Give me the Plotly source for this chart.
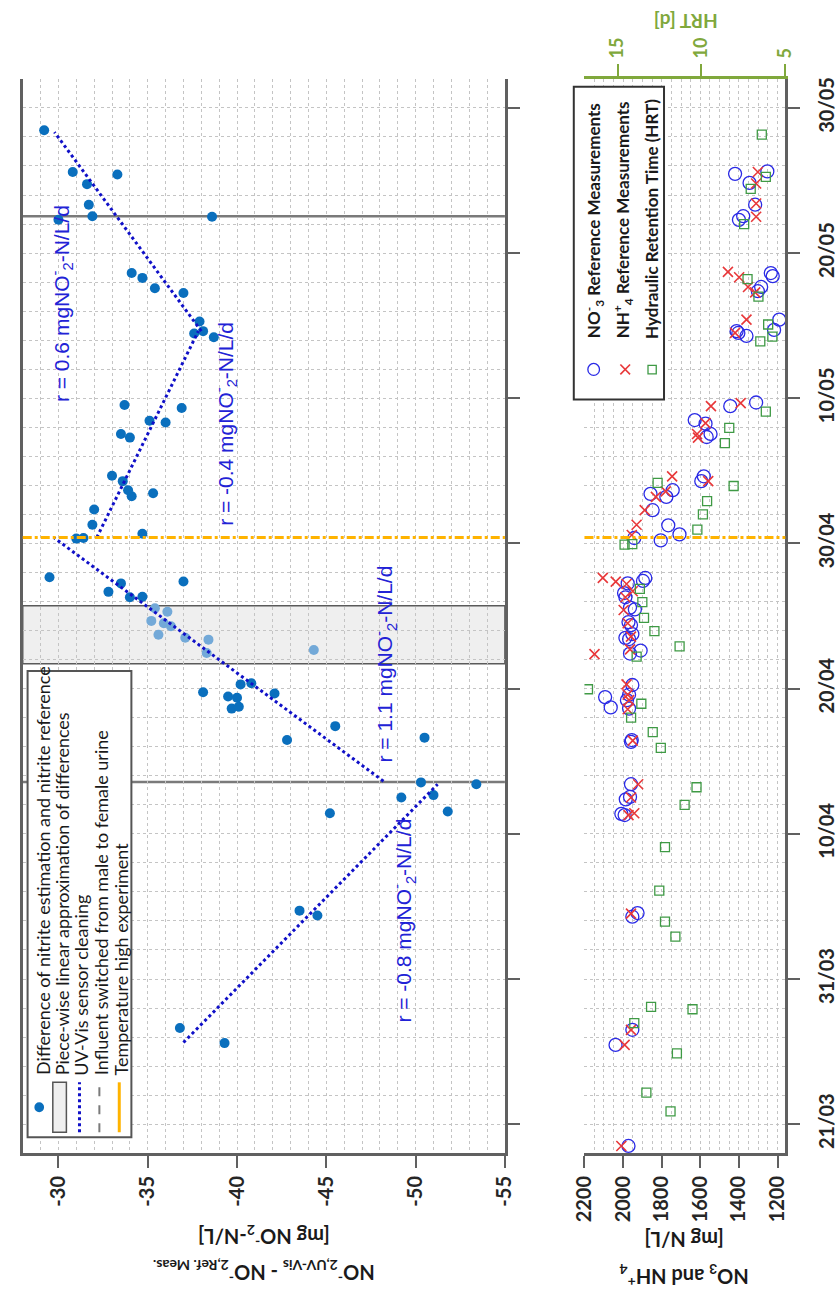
import pandas as pd
import plotly.graph_objects as go

W, H = 838, 1290

# ---------------- data ----------------
# difference between UV-Vis nitrite estimate and nitrite reference [mg NO2-N/L]
nitrite_dates = [
    "2019-03-26 14:00", "2019-03-27 15:00",
    "2019-04-04 09:00", "2019-04-04 17:00",
    "2019-04-11 10:00", "2019-04-11 13:00",
    "2019-04-12 12:00", "2019-04-12 16:00",
    "2019-04-13 10:00", "2019-04-13 13:00",
    "2019-04-16 11:00", "2019-04-16 15:00",
    "2019-04-17 10:00",
    "2019-04-18 15:00", "2019-04-18 18:00",
    "2019-04-19 09:00", "2019-04-19 11:00", "2019-04-19 16:00", "2019-04-19 18:00",
    "2019-04-20 07:00", "2019-04-20 09:00",
    "2019-04-26 07:00", "2019-04-26 08:00", "2019-04-26 16:00",
    "2019-04-27 06:00", "2019-04-27 09:00", "2019-04-27 16:00",
    "2019-04-30 08:00", "2019-04-30 09:00", "2019-04-30 16:00",
    "2019-05-01 07:00", "2019-05-02 08:00",
    "2019-05-03 06:00", "2019-05-03 11:00", "2019-05-03 16:00",
    "2019-05-04 07:00", "2019-05-04 16:00",
    "2019-05-07 07:00", "2019-05-07 13:00",
    "2019-05-08 08:00", "2019-05-08 11:00",
    "2019-05-09 08:00", "2019-05-09 13:00",
    "2019-05-14 05:00", "2019-05-14 11:00", "2019-05-14 15:00", "2019-05-15 07:00",
    "2019-05-17 06:00", "2019-05-17 14:00",
    "2019-05-18 07:00", "2019-05-18 15:00",
    "2019-05-22 07:00", "2019-05-22 12:00", "2019-05-22 13:00",
    "2019-05-23 08:00", "2019-05-24 18:00",
    "2019-05-25 10:00", "2019-05-25 14:00",
    "2019-05-28 11:00",
]
nitrite_diff = [
    -39.3, -36.8,
    -44.5, -43.5,
    -45.2, -51.8,
    -49.2, -51.0,
    -53.4, -50.3,
    -42.8, -50.5,
    -45.5,
    -39.7, -40.1,
    -40.0, -39.5, -42.1, -38.1,
    -40.2, -40.8,
    -34.0, -34.7, -32.8,
    -33.5, -37.0, -29.5,
    -31.0, -31.4, -34.7,
    -31.9, -32.0,
    -34.1, -35.3, -33.9,
    -33.6, -33.0,
    -34.0, -33.5,
    -36.0, -35.1,
    -36.9, -33.7,
    -38.7, -37.6, -38.1, -37.9,
    -37.0, -35.4,
    -34.7, -34.1,
    -30.0, -38.6, -31.9,
    -31.7, -31.6,
    -33.3, -30.8,
    -29.2,
]

# differences measured during the sensor cleaning period
cleaning_dates = [
    "2019-04-22 11:00", "2019-04-22 16:00", "2019-04-23 09:00", "2019-04-23 12:00",
    "2019-04-23 17:00", "2019-04-24 07:00", "2019-04-24 12:00", "2019-04-24 16:00",
    "2019-04-25 07:00", "2019-04-25 13:00",
]
cleaning_diff = [-38.3, -44.3, -38.4, -37.1, -35.6, -36.3, -35.9, -35.2, -36.1, -35.4]

# piece-wise linear approximation: start, end, start value, rate [mg/L/d]
seg_start = ["2019-03-26 15:00", "2019-04-13 15:00", "2019-04-30 10:00", "2019-05-14 15:00"]
seg_end = ["2019-04-13 10:00", "2019-04-30 09:00", "2019-05-14 15:00", "2019-05-28 08:00"]
seg_start_value = [-37.0, -48.2, -32.15, -38.0]
seg_rate = [-0.8, 1.1, -0.4, 0.6]

cleaning_window = ["2019-04-21 17:00", "2019-04-25 17:00"]
influent_switch = ["2019-04-13 13:30", "2019-05-22 13:00"]
temperature_start = "2019-04-30 10:00"

# reference measurements [mg N/L]
no3_dates = [
    "2019-03-19 12:00", "2019-03-26 11:00", "2019-03-27 12:00", "2019-04-04 07:00",
    "2019-04-04 13:00", "2019-04-11 07:00", "2019-04-11 09:00", "2019-04-12 09:00",
    "2019-04-12 13:00", "2019-04-13 10:00", "2019-04-16 08:00", "2019-04-16 11:00",
    "2019-04-18 15:00", "2019-04-18 17:00", "2019-04-19 05:00", "2019-04-19 10:00",
    "2019-04-19 14:00", "2019-04-20 06:00", "2019-04-22 10:00", "2019-04-22 15:00",
    "2019-04-23 10:00", "2019-04-23 12:00", "2019-04-23 18:00", "2019-04-24 09:00",
    "2019-04-24 14:00", "2019-04-25 11:00", "2019-04-25 14:00", "2019-04-26 07:00",
    "2019-04-26 14:00", "2019-04-27 06:00", "2019-04-27 10:00", "2019-04-27 15:00",
    "2019-04-30 05:00", "2019-04-30 09:00", "2019-04-30 15:00", "2019-05-01 06:00",
    "2019-05-02 07:00", "2019-05-03 05:00", "2019-05-03 10:00", "2019-05-03 16:00",
    "2019-05-04 07:00", "2019-05-04 15:00", "2019-05-07 08:00", "2019-05-07 13:00",
    "2019-05-08 06:00", "2019-05-08 12:00", "2019-05-09 11:00", "2019-05-09 17:00",
    "2019-05-14 07:00", "2019-05-14 12:00", "2019-05-14 15:00", "2019-05-14 17:00",
    "2019-05-15 10:00", "2019-05-17 09:00", "2019-05-17 16:00", "2019-05-18 10:00",
    "2019-05-18 15:00", "2019-05-22 07:00", "2019-05-22 13:00", "2019-05-23 08:00",
    "2019-05-24 20:00", "2019-05-25 11:00", "2019-05-25 15:00",
]
no3_values = [
    1972, 2039, 1952, 1952,
    1925, 1992, 2009, 1986,
    1964, 1959, 1959, 1955,
    1969, 2064, 1980, 2093,
    1969, 1952, 1964, 1909,
    1969, 1988, 1952, 1959,
    1972, 1939, 1964, 1988,
    1995, 1976, 1897, 1885,
    1805, 1942, 1708, 1766,
    1847, 1776, 1858, 1743,
    1595, 1582, 1567, 1547,
    1573, 1629, 1445, 1311,
    1361, 1403, 1412, 1218,
    1191, 1302, 1285, 1225,
    1235, 1400, 1378, 1316,
    1345, 1420, 1253,
]

nh4_dates = [
    "2019-03-19 12:00", "2019-03-26 11:00", "2019-03-27 12:00", "2019-04-04 12:00",
    "2019-04-11 07:00", "2019-04-11 10:00", "2019-04-12 12:00", "2019-04-13 10:00",
    "2019-04-16 10:00", "2019-04-18 14:00", "2019-04-19 05:00", "2019-04-19 14:00",
    "2019-04-20 07:00", "2019-04-22 09:00", "2019-04-22 17:00", "2019-04-23 14:00",
    "2019-04-24 12:00", "2019-04-25 10:00", "2019-04-26 07:00", "2019-04-26 17:00",
    "2019-04-27 05:00", "2019-04-27 09:00", "2019-04-27 15:00", "2019-04-30 14:00",
    "2019-05-01 07:00", "2019-05-02 07:00", "2019-05-03 05:00", "2019-05-03 14:00",
    "2019-05-04 07:00", "2019-05-04 15:00", "2019-05-07 07:00", "2019-05-07 13:00",
    "2019-05-08 07:00", "2019-05-09 11:00", "2019-05-09 16:00", "2019-05-14 12:00",
    "2019-05-15 10:00", "2019-05-17 07:00", "2019-05-17 16:00", "2019-05-18 08:00",
    "2019-05-18 17:00", "2019-05-22 12:00", "2019-05-23 10:00", "2019-05-24 19:00",
    "2019-05-25 14:00",
]
nh4_values = [
    2009, 1992, 1959, 1959,
    1972, 1942, 1959, 1922,
    1950, 1976, 1969, 1976,
    1982, 2148, 1964, 1959,
    1976, 1997, 1988, 1950,
    1982, 2038, 2105, 1955,
    1930, 1888, 1830, 1779,
    1559, 1746, 1612, 1617,
    1573, 1545, 1391, 1420,
    1361, 1316, 1353, 1399,
    1457, 1311, 1311, 1311,
    1302,
]

# hydraulic retention time [d]
hrt_dates = [
    "2019-03-21 21:00", "2019-03-23 04:00", "2019-03-25 21:00", "2019-03-27 23:00",
    "2019-03-28 22:00", "2019-03-29 02:00", "2019-04-02 22:00", "2019-04-03 23:00",
    "2019-04-06 02:00", "2019-04-09 02:00", "2019-04-12 00:00", "2019-04-13 05:00",
    "2019-04-15 22:00", "2019-04-17 00:00", "2019-04-18 00:00", "2019-04-18 23:00",
    "2019-04-19 23:00", "2019-04-22 05:00", "2019-04-22 22:00", "2019-04-23 23:00",
    "2019-04-24 21:00", "2019-04-25 23:00", "2019-04-26 21:00", "2019-04-29 22:00",
    "2019-04-29 23:00", "2019-04-30 23:00", "2019-05-02 00:00", "2019-05-02 22:00",
    "2019-05-03 23:00", "2019-05-04 04:00", "2019-05-06 22:00", "2019-05-07 23:00",
    "2019-05-09 02:00", "2019-05-13 22:00", "2019-05-14 06:00", "2019-05-15 02:00",
    "2019-05-17 00:00", "2019-05-18 05:00", "2019-05-22 00:00", "2019-05-24 10:00",
    "2019-05-25 06:00", "2019-05-28 04:00",
]
hrt_values = [
    11.84, 13.28, 11.46, 14.0,
    10.53, 13.0, 11.55, 12.17,
    12.51, 12.17, 11.0, 10.29,
    12.42, 12.9, 14.19, 13.58,
    16.76, 13.86, 11.3, 12.8,
    13.42, 13.52, 13.67, 14.58,
    14.12, 10.24, 9.91, 9.66,
    8.08, 12.61, 8.6, 8.34,
    6.16, 6.49, 5.77, 6.02,
    6.6, 7.25, 7.45, 7.06,
    6.16, 6.4,
]

date_ticks = ["2019-03-21", "2019-03-31", "2019-04-10", "2019-04-20",
              "2019-04-30", "2019-05-10", "2019-05-20", "2019-05-30"]
diff_ticks = [-30, -35, -40, -45, -50, -55]
conc_ticks = [2200, 2000, 1800, 1600, 1400, 1200]
hrt_ticks = [5, 10, 15]

# ---------------- styling ----------------
DARK_BLUE = "#0a6fbd"
LIGHT_BLUE = "#73a9d8"
LINE_BLUE = "#1010c8"
TEXT_BLUE = "#2222d6"
ORANGE = "#ffb300"
GREY_LINE = "#7a7a7a"
AXIS = "#606060"
GRID = "#c4c4c4"
HRT_GREEN = "#80a83c"
SQ_GREEN = "#3f9a45"
NO3_BLUE = "#2a2ae6"
NH4_RED = "#e8383a"
TICK_FONT = dict(family="Lato", size=20, color="#262626", weight="bold")
DATE_RANGE = ["2019-03-19", "2019-06-01"]


def px(x):
    return x / W


def py(y):
    return 1 - y / H


fig = go.Figure()

# --- upper panel: nitrite differences ---
fig.add_trace(go.Scatter(
    x=nitrite_diff, y=pd.to_datetime(nitrite_dates), mode="markers",
    marker=dict(color=DARK_BLUE, size=10), xaxis="x", yaxis="y",
))
fig.add_trace(go.Scatter(
    x=cleaning_diff, y=pd.to_datetime(cleaning_dates), mode="markers",
    marker=dict(color=LIGHT_BLUE, size=10), xaxis="x", yaxis="y",
))
for s, e, v0, r in zip(seg_start, seg_end, seg_start_value, seg_rate):
    t0, t1 = pd.Timestamp(s), pd.Timestamp(e)
    days = (t1 - t0) / pd.Timedelta(days=1)
    fig.add_trace(go.Scatter(
        x=[v0, v0 + r * days], y=[t0, t1], mode="lines",
        line=dict(color=LINE_BLUE, width=3, dash="dot"), xaxis="x", yaxis="y",
    ))

# --- lower panel: NO3 / NH4 references and HRT ---
fig.add_trace(go.Scatter(
    x=hrt_values, y=pd.to_datetime(hrt_dates), mode="markers",
    marker=dict(symbol="square-open", color=SQ_GREEN, size=9, line=dict(width=1.3)),
    xaxis="x3", yaxis="y2",
))
fig.add_trace(go.Scatter(
    x=no3_values, y=pd.to_datetime(no3_dates), mode="markers",
    marker=dict(symbol="circle-open", color=NO3_BLUE, size=13, line=dict(width=1.3)),
    xaxis="x2", yaxis="y2",
))
fig.add_trace(go.Scatter(
    x=nh4_values, y=pd.to_datetime(nh4_dates), mode="markers",
    marker=dict(symbol="x-thin-open", color=NH4_RED, size=10, line=dict(width=1.6, color=NH4_RED)),
    xaxis="x2", yaxis="y2",
))

shapes = []
# sensor cleaning band
shapes.append(dict(type="rect", xref="x domain", yref="y", x0=0, x1=1,
                   y0=cleaning_window[0], y1=cleaning_window[1],
                   fillcolor="#efefef", line=dict(color="#5a5a5a", width=1.5), layer="below"))
# influent switch lines
for d in influent_switch:
    shapes.append(dict(type="line", xref="x domain", yref="y", x0=0, x1=1, y0=d, y1=d,
                       line=dict(color=GREY_LINE, width=2.5), layer="below"))
# temperature experiment start (both panels)
for xr, yr in (("x domain", "y"), ("x2 domain", "y2")):
    shapes.append(dict(type="line", xref=xr, yref=yr, x0=0, x1=1,
                       y0=temperature_start, y1=temperature_start,
                       line=dict(color=ORANGE, width=3, dash="dashdot"), layer="above"))

# legend of the upper panel
shapes.append(dict(type="rect", xref="paper", yref="paper", x0=px(14), x1=px(121),
                   y0=py(1137), y1=py(670), fillcolor="white",
                   line=dict(color="#555555", width=2), layer="above"))
shapes.append(dict(type="circle", xref="paper", yref="paper", x0=px(21), x1=px(31),
                   y0=py(1112), y1=py(1102), fillcolor=DARK_BLUE, line=dict(width=0), layer="above"))
shapes.append(dict(type="rect", xref="paper", yref="paper", x0=px(40), x1=px(54),
                   y0=py(1132), y1=py(1082), fillcolor="#efefef",
                   line=dict(color="#555555", width=1.5), layer="above"))
shapes.append(dict(type="line", xref="paper", yref="paper", x0=px(67.5), x1=px(67.5),
                   y0=py(1132), y1=py(1082), line=dict(color=LINE_BLUE, width=3, dash="dot"),
                   layer="above"))
shapes.append(dict(type="line", xref="paper", yref="paper", x0=px(88), x1=px(88),
                   y0=py(1132), y1=py(1082), line=dict(color=GREY_LINE, width=2, dash="dash"),
                   layer="above"))
shapes.append(dict(type="line", xref="paper", yref="paper", x0=px(108.5), x1=px(108.5),
                   y0=py(1132), y1=py(1082), line=dict(color=ORANGE, width=3), layer="above"))

# legend of the lower panel
shapes.append(dict(type="rect", xref="paper", yref="paper", x0=px(577), x1=px(670),
                   y0=py(398), y1=py(85), fillcolor="white",
                   line=dict(color="#333333", width=2), layer="above"))
shapes.append(dict(type="circle", xref="paper", yref="paper", x0=px(591.5), x1=px(603.5),
                   y0=py(374), y1=py(362), line=dict(color=NO3_BLUE, width=1.3), layer="above"))
for a, b in ((-5, -5), (-5, 5)):
    shapes.append(dict(type="line", xref="paper", yref="paper",
                       x0=px(630 + a), x1=px(630 - a), y0=py(368 + b), y1=py(368 - b),
                       line=dict(color=NH4_RED, width=1.6), layer="above"))
shapes.append(dict(type="rect", xref="paper", yref="paper", x0=px(653.5), x1=px(662),
                   y0=py(372.5), y1=py(364), line=dict(color=SQ_GREEN, width=1.3), layer="above"))

annotations = []


def note(x, y, text, font, angle, xanchor="center", yanchor="middle"):
    annotations.append(dict(xref="paper", yref="paper", x=px(x), y=py(y), text=text,
                            textangle=angle, xanchor=xanchor, yanchor=yanchor,
                            showarrow=False, font=font, borderpad=0))


leg_font = dict(family="Lato", size=18, color="#1a1a1a")
for xc, txt in ((30, "Difference of nitrite estimation and nitrite reference"),
                (49, "Piece-wise linear approximation of differences"),
                (69, "UV-Vis sensor cleaning"),
                (89, "Influent switched from male to female urine"),
                (110, "Temperature high experiment")):
    note(xc, 1076, txt, leg_font, -90, yanchor="bottom")

leg2_font = dict(family="Lato", size=17, color="#1a1a1a", weight="bold")
for xc, txt in ((598, "NO<sup>-</sup><sub>3</sub> Reference Measurements"),
                (628, "NH<sup>+</sup><sub>4</sub> Reference Measurements"),
                (657, "Hydraulic Retention Time (HRT)")):
    note(xc, 338, txt, leg2_font, -90, yanchor="bottom")

# slope labels
rate_font = dict(family="Liberation Sans", size=21, color=TEXT_BLUE)
for (xc, yc), r in zip(((402, 920), (383, 663), (218, 422), (49, 302)), seg_rate):
    note(xc, yc, f"r = {r:g} mgNO<sup>-</sup><sub>2</sub>-N/L/d", rate_font, -90)

# axis titles (upside down)
title_font = dict(family="Lato", size=20, color="#1a1a1a", weight="bold")
note(257, 1236, "[mg NO<sup>-</sup><sub>2</sub>-N/L]", title_font, 180)
note(257, 1272, "NO<sup>-</sup><sub>2,UV-Vis</sub> - NO<sup>-</sup><sub>2,Ref. Meas.</sub>",
     title_font, 180)
note(691, 1240, "[mg N/L]", title_font, 180)
note(691, 1276, "NO<sub>3</sub> and NH<sup>+</sup><sub>4</sub>", title_font, 180)
note(692, 19, "HRT [d]", dict(family="Lato", size=19, color=HRT_GREEN, weight="bold"), 180)

date_minor = dict(tick0="2019-03-21", dtick=2 * 86400000, showgrid=True,
                  gridcolor=GRID, griddash="dot", gridwidth=1, ticks="")
y_domain = [py(1153), py(77)]

fig.update_layout(
    width=W, height=H, margin=dict(l=0, r=0, t=0, b=0),
    paper_bgcolor="white", plot_bgcolor="white", showlegend=False,
    shapes=shapes, annotations=annotations,
    xaxis=dict(
        domain=[px(9), px(506)], range=[-28, -55], anchor="y",
        tickvals=diff_ticks, ticktext=[f"{v:d}" for v in diff_ticks],
        tickangle=-90, tickfont=TICK_FONT, ticks="outside", ticklen=12, tickwidth=2,
        tickcolor=AXIS, showline=True, linecolor=AXIS, linewidth=2.5,
        showgrid=True, gridcolor=GRID, griddash="dot", zeroline=False,
        minor=dict(tick0=-30, dtick=1, showgrid=True, gridcolor=GRID, griddash="dot", ticks=""),
    ),
    yaxis=dict(
        domain=y_domain, type="date", range=DATE_RANGE, anchor="x", side="right",
        tickvals=date_ticks, showticklabels=False, ticks="outside", ticklen=12,
        tickwidth=2, tickcolor=AXIS, showline=True, mirror=True, linecolor=AXIS,
        linewidth=2.5, showgrid=True, gridcolor=GRID, griddash="dot", zeroline=False,
        minor=date_minor,
    ),
    xaxis2=dict(
        domain=[px(588), px(795)], range=[2200, 1160], anchor="y2",
        tickvals=conc_ticks, ticktext=[str(v) for v in conc_ticks],
        tickangle=-90, tickfont=TICK_FONT, ticks="outside", ticklen=12, tickwidth=2,
        tickcolor=AXIS, showline=True, linecolor=AXIS, linewidth=2.5,
        showgrid=True, gridcolor=GRID, griddash="dot", zeroline=False,
        minor=dict(tick0=2200, dtick=50, showgrid=True, gridcolor=GRID, griddash="dot", ticks=""),
    ),
    yaxis2=dict(
        domain=y_domain, type="date", range=DATE_RANGE, anchor="x2", side="right",
        tickvals=date_ticks, tickformat="%d/%m", tickangle=-90, tickfont=TICK_FONT,
        ticks="outside", ticklen=12, tickwidth=2, tickcolor=AXIS, showline=True,
        linecolor=AXIS, linewidth=2.5, showgrid=True, gridcolor=GRID, griddash="dot",
        zeroline=False, minor=date_minor, ticklabelstandoff=10,
    ),
    xaxis3=dict(
        overlaying="x2", anchor="y2", side="top", range=[16.97, 5],
        tickvals=hrt_ticks, ticktext=[str(v) for v in hrt_ticks], tickangle=-90,
        tickfont=dict(family="Lato", size=18, color=HRT_GREEN, weight="bold"),
        ticks="outside", ticklen=12, tickwidth=2, tickcolor=HRT_GREEN, ticklabelstandoff=2,
        showline=True, linecolor=HRT_GREEN, linewidth=2.5, showgrid=False, zeroline=False,
    ),
)

fig.write_html("out.html")
